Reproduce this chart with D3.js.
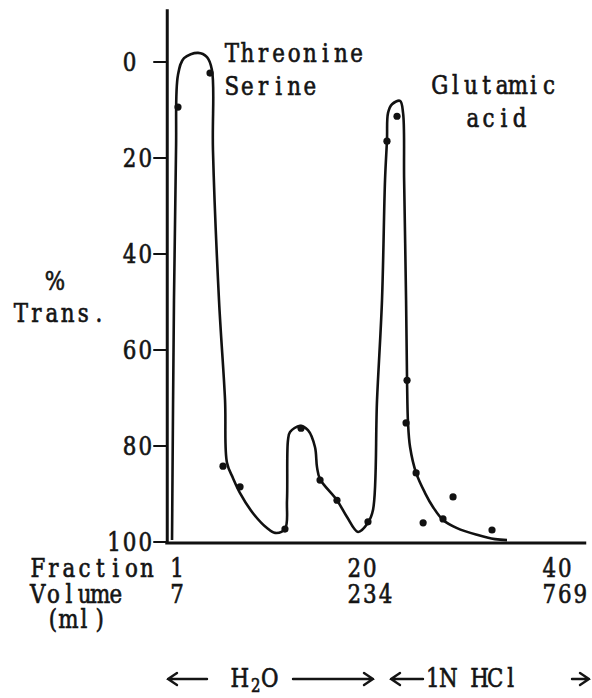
<!DOCTYPE html>
<html>
<head>
<meta charset="utf-8">
<title>% Trans. by fraction</title>
<script src="https://d3js.org/d3.v7.min.js"></script>
<style>
body { margin: 0; background: #fff; }
text { font-family: "DejaVu Serif", "Liberation Serif", serif; font-size: 23px; fill: #141414; stroke: #141414; stroke-width: 0.6px; }
.curve { fill: none; stroke: #111; stroke-width: 2.6px; stroke-linejoin: round; }
.axis-line { stroke: #111; stroke-width: 3px; }
.arrow { fill: none; stroke: #141414; stroke-width: 2.4px; stroke-linecap: round; }
</style>
</head>
<body>
<svg id="chart" width="592" height="698"></svg>
<script>
// drawn curve (fraction number, % transmission)
var curveFraction = [0.49,0.69,0.90,1.10,1.72,3.16,4.08,4.59,4.69,5.31,5.93,6.13,6.75,7.47,8.80,10.24,11.06,12.08,12.29,12.39,12.60,13.62,14.44,15.16,15.37,15.68,17.42,18.45,19.58,20.60,21.12,21.53,22.04,22.35,22.55,22.66,23.07,23.89,24.20,24.31,24.51,24.61,24.71,24.92,25.54,26.46,27.27,28.30,29.74,31.79,33.64,34.87];
var curveTrans = [99.6,49.6,18.3,2.7,-0.8,-1.9,-1.0,1.7,18.3,49.6,70.4,83.5,86.7,89.8,94.0,97.1,98.1,97.3,91.3,78.8,77.1,75.8,76.7,80.2,84.4,86.9,91.3,94.8,97.9,96.0,93.3,70.4,49.6,24.6,16.3,10.6,8.8,8.1,10.6,24.6,49.6,66.3,75.2,80.2,85.6,89.8,92.7,95.4,97.1,98.5,99.4,99.6];

// measured points
var dotFraction = [1.10,4.39,5.72,7.47,12.08,13.73,15.68,17.42,20.60,22.55,23.58,24.61,24.51,25.54,26.26,28.30,29.33,33.33];
var dotTrans = [9.4,2.3,84.2,88.5,97.3,76.3,87.1,91.3,95.8,16.5,11.3,66.3,75.2,85.6,96.0,95.2,90.6,97.5];

var yTicks = [0, 20, 40, 60, 80, 100];
var fractionTicks = [1, 20, 40];
var volumeLabels = ["7", "234", "769"];

var svg = d3.select("#chart");

var x = d3.scaleLinear().domain([1, 40]).range([177, 557]);
var y = d3.scaleLinear().domain([0, 100]).range([62, 542]);

// typewriter: every character sits in a fixed cell
var charW = 15.6;
var sx = 0.93, sy = 1.12;

function typed(px, py, str, anchor, size) {
  var w = str.length * charW;
  var x0 = anchor == "middle" ? px - w / 2 : anchor == "end" ? px - w : px;
  var cells = d3.range(str.length).map(function(i) { return ((i + 0.5) * charW / sx).toFixed(2); });
  var t = svg.append("text")
    .attr("transform", "translate(" + x0 + "," + py + ") scale(" + sx + "," + sy + ")")
    .attr("text-anchor", "middle")
    .attr("x", cells.join(" "))
    .text(str);
  if (size) t.style("font-size", size + "px");
  return t;
}

// axes
svg.append("line").attr("class", "axis-line")
  .attr("x1", x(0)).attr("x2", x(0))
  .attr("y1", y(-11)).attr("y2", y(100) + 1);
svg.append("line").attr("class", "axis-line")
  .attr("x1", x(0) - 2).attr("x2", x(43))
  .attr("y1", y(100) + 1).attr("y2", y(100) + 1);

// y ticks, typed in a two column field
yTicks.forEach(function(t) {
  svg.append("line").attr("class", "axis-line")
    .style("stroke-width", "2px")
    .attr("x1", x(0) - 14).attr("x2", x(0))
    .attr("y1", y(t)).attr("y2", y(t));
  var s = String(t);
  typed(153 - charW * Math.max(2, s.length), y(t) + 9, s);
});

// curve
var line = d3.line()
  .x(function(d) { return x(d[0]); })
  .y(function(d) { return y(d[1]); })
  .curve(d3.curveCatmullRom.alpha(0.5));

svg.append("path").attr("class", "curve")
  .datum(d3.zip(curveFraction, curveTrans))
  .attr("d", line);

svg.selectAll("circle.dot")
  .data(d3.zip(dotFraction, dotTrans))
  .join("circle")
  .attr("class", "dot")
  .attr("cx", function(d) { return x(d[0]); })
  .attr("cy", function(d) { return y(d[1]); })
  .attr("r", 3.6)
  .attr("fill", "#111");

// peak labels
typed(224, 62, "Threonine");
typed(224, 95, "Serine");
typed(432, 94, "Glutamic");
typed(465, 127, "acid");

// y label
typed(55, 290, "%", "middle");
typed(13, 322, "Trans.");

// x labels
typed(30, 577, "Fraction");
typed(30, 603, "Volume");
typed(45, 628, "(ml)");
fractionTicks.forEach(function(f, i) {
  var s = String(f);
  typed(x(f), 577, s, "middle");
  typed(x(f) - charW * s.length / 2, 603, volumeLabels[i]);
});

// eluent row
function arrow(x1, x2, ay) {
  var d = x2 > x1 ? 1 : -1;
  svg.append("path").attr("class", "arrow")
    .attr("d", "M" + x1 + "," + ay + "L" + x2 + "," + ay +
      "M" + (x2 - d * 9) + "," + (ay - 6) + "L" + x2 + "," + ay +
      "L" + (x2 - d * 9) + "," + (ay + 6));
}
var rowY = 687;
arrow(207, 168, 679);
typed(232, rowY, "H");
typed(248, rowY + 5, "2", "start", 16);
typed(262, rowY, "O");
arrow(293, 373, 679);
arrow(423, 391, 679);
typed(425, rowY, "1N HCl");
arrow(572, 589, 679);
</script>
</body>
</html>
